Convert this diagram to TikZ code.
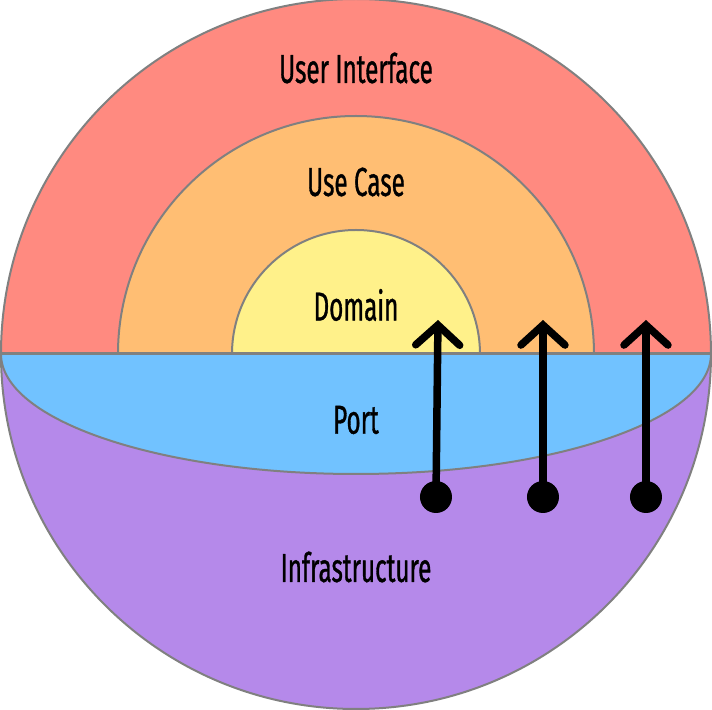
\documentclass[tikz,border=0pt]{standalone}
\usepackage{fontspec}
\setmainfont{Fira Sans}[FakeStretch=0.6,FakeBold=0.8]
\usetikzlibrary{arrows.meta}
\definecolor{uired}{RGB}{255,138,128}
\definecolor{ucorange}{RGB}{255,190,115}
\definecolor{domyellow}{RGB}{255,241,138}
\definecolor{portblue}{RGB}{113,194,255}
\definecolor{infrapurple}{RGB}{181,137,234}
\definecolor{rimgray}{RGB}{128,128,128}
\begin{document}
\begin{tikzpicture}[
 layer/.style={draw=rimgray,line width=0.02cm},
 label/.style={font=\fontsize{11.5}{13}\selectfont},
 plug/.style={circle,fill=black,inner sep=0pt,minimum size=0.32cm},
 dep/.style={line width=0.075cm,line cap=round,-{Straight Barb[length=0.2cm,width=0.44cm,line cap=round]}}]
 \useasboundingbox (-3.56,-3.56) rectangle (3.56,3.54);
 % upper half: rings
 \filldraw[layer,fill=uired] (3.55,0) arc (0:180:3.55) -- cycle;
 \filldraw[layer,fill=ucorange] (2.38,0) arc (0:180:2.38) -- cycle;
 \filldraw[layer,fill=domyellow] (1.24,0) arc (0:180:1.24) -- cycle;
 % lower half: infrastructure and port
 \filldraw[layer,fill=infrapurple] (-3.55,0) arc (180:360:3.55) -- cycle;
 \filldraw[layer,fill=portblue] (-3.55,0) arc[x radius=3.55,y radius=1.2,start angle=180,end angle=360] -- cycle;
 \draw[rimgray,line width=0.03cm] (-3.55,0) -- (3.55,0);
 \node[label] (ui) at (0,2.86) {User Interface};
 \node[label] (uc) at (0,1.72) {Use Case};
 \node[label] (dom) at (0,0.49) {Domain};
 \node[label] (port) at (0,-0.66) {Port};
 \node[label] (infra) at (0,-2.13) {Infrastructure};
 % dependencies point inwards
 \node[plug] (p1) at (0.80,-1.43) {};
 \node[plug] (p2) at (1.87,-1.43) {};
 \node[plug] (p3) at (2.90,-1.43) {};
 \coordinate (t1) at (0.82,0.34);
 \coordinate (t2) at (1.87,0.34);
 \coordinate (t3) at (2.90,0.34);
 \draw[dep] (p1.center) -- (t1);
 \draw[dep] (p2.center) -- (t2);
 \draw[dep] (p3.center) -- (t3);
\end{tikzpicture}
\end{document}
